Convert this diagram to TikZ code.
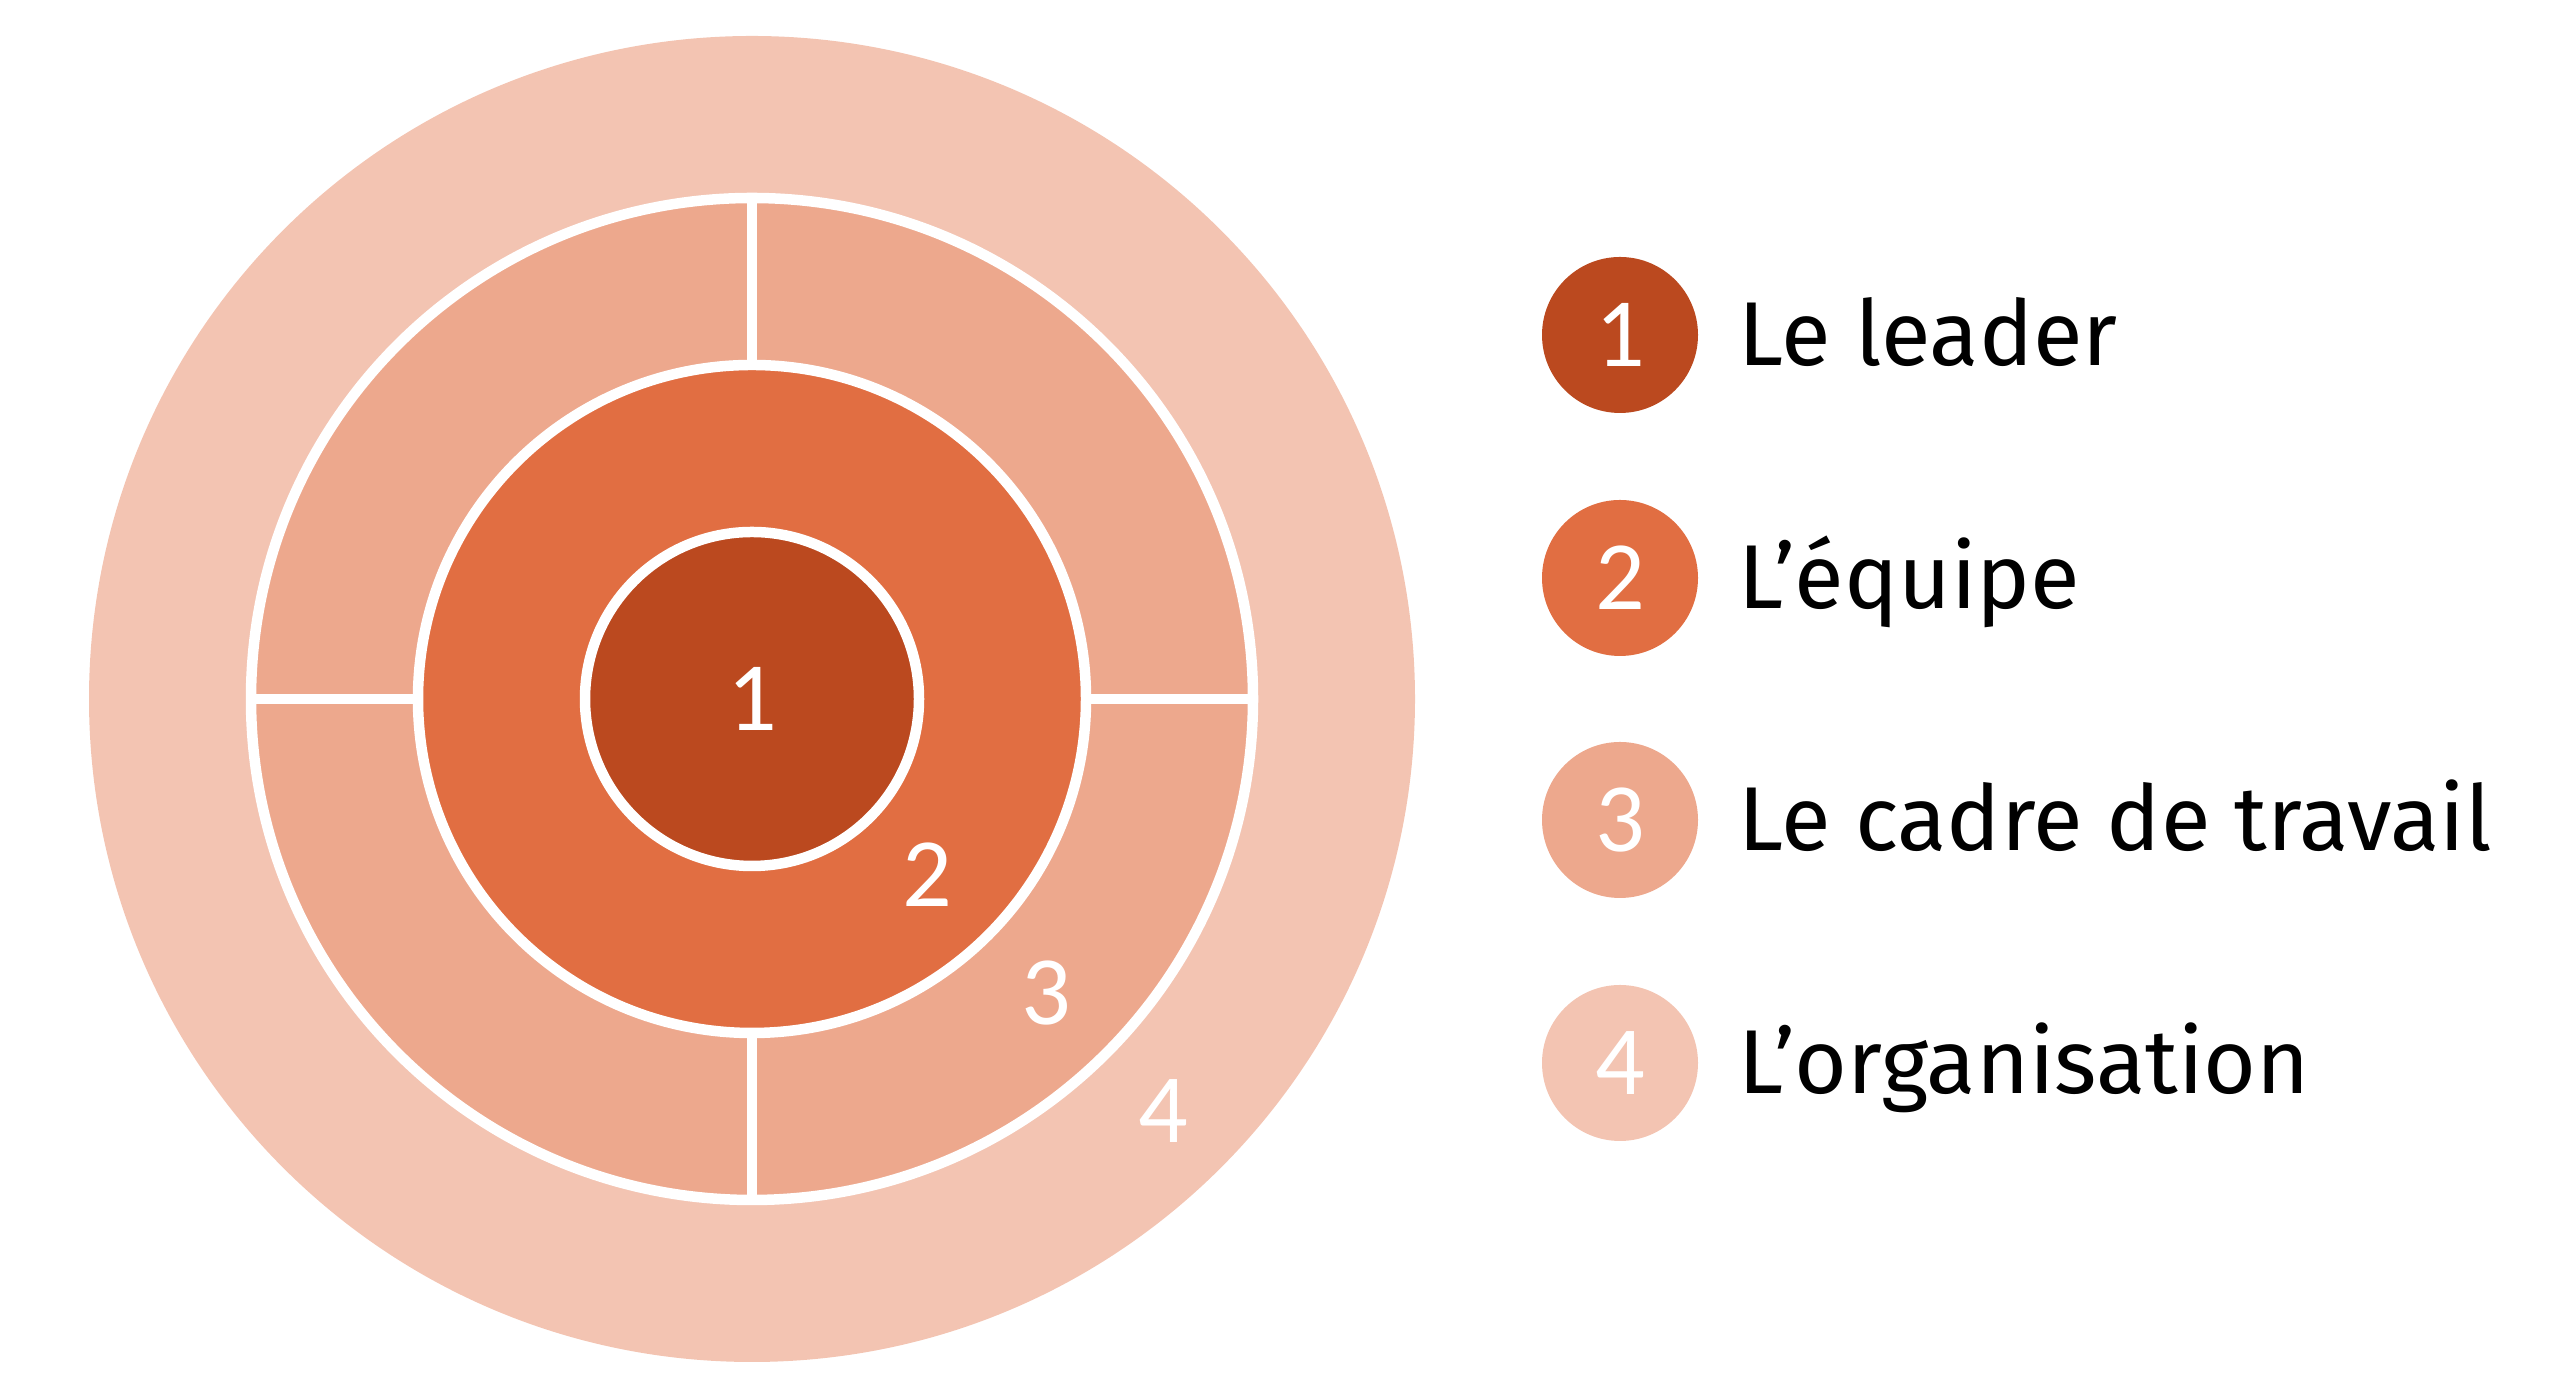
\documentclass[tikz,border=0pt]{standalone}
\usepackage{fontspec}
\setmainfont{Fira Sans}
\newfontfamily\digitfont{Carlito}
\definecolor{leader}{RGB}{187,73,31}
\definecolor{equipe}{RGB}{225,110,66}
\definecolor{cadre}{RGB}{237,168,141}
\definecolor{orga}{RGB}{243,196,178}
\tikzset{
  sep/.style={draw=white, line width=0.105cm},
  num/.style={text=white, inner sep=0pt, font=\digitfont\fontsize{27.9pt}{30pt}\selectfont},
  legdot/.style={circle, minimum size=1.56cm, inner sep=0pt, text=white,
    font=\digitfont\fontsize{27.9pt}{30pt}\selectfont},
  legtext/.style={anchor=base west, inner sep=0pt,
    font=\fontsize{25.8pt}{30pt}\selectfont}
}
\begin{document}
\begin{tikzpicture}
            \useasboundingbox (0,0) rectangle (25.6,13.98);
            \coordinate (c) at (7.52,6.99);

            % rings, outside in
            \fill[orga] (c) circle (6.63);
            \fill[cadre] (c) circle (5.01);
            \fill[equipe] (c) circle (3.34);
            \fill[leader] (c) circle (1.67);
            \draw[sep] (c) circle (5.01);
            \draw[sep] (c) circle (3.34);
            \draw[sep] (c) circle (1.67);

            % the cross in ring 3
            \draw[sep] ([yshift=3.34cm]c) -- ([yshift=5.01cm]c);
            \draw[sep] ([yshift=-3.34cm]c) -- ([yshift=-5.01cm]c);
            \draw[sep] ([xshift=3.34cm]c) -- ([xshift=5.01cm]c);
            \draw[sep] ([xshift=-3.34cm]c) -- ([xshift=-5.01cm]c);

            \node[num] (n1) at (c) {1};
            \node[num] (n2) at ([shift={(-45:2.48)}]c) {2};
            \node[num] (n3) at ([shift={(-45:4.16)}]c) {3};
            \node[num] (n4) at ([shift={(-45:5.82)}]c) {4};

            % legend
            \node[legdot, fill=leader] (l1) at (16.20,10.63) {1};
            \node[legdot, fill=equipe] (l2) at (16.20,8.20) {2};
            \node[legdot, fill=cadre] (l3) at (16.20,5.78) {3};
            \node[legdot, fill=orga] (l4) at (16.20,3.35) {4};
            \node[legtext] (t1) at (17.38,10.32) {Le leader};
            \node[legtext] (t2) at (17.38,7.89) {L’équipe};
            \node[legtext] (t3) at (17.38,5.47) {Le cadre de travail};
            \node[legtext] (t4) at (17.38,3.04) {L’organisation};
\end{tikzpicture}
\end{document}
